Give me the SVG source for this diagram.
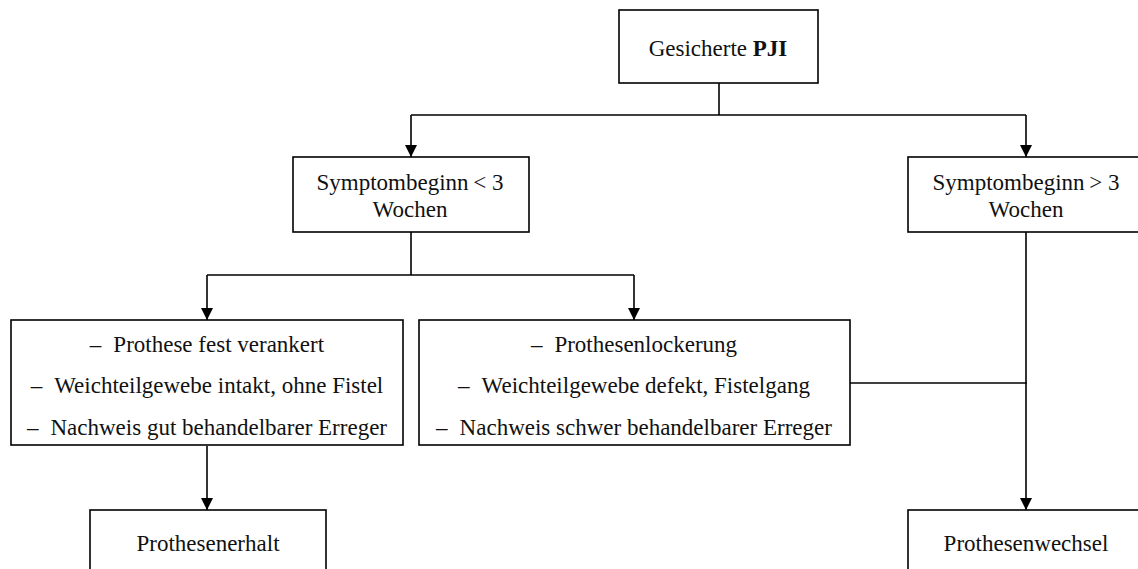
<svg xmlns="http://www.w3.org/2000/svg" width="1138" height="569" viewBox="0 0 1138 569">
<style>
.box{fill:#fff;stroke:#000;stroke-width:1.6}
.t{font-family:"Liberation Serif","Times New Roman",serif;font-size:23px;fill:#111;text-anchor:middle}
.c{fill:none;stroke:#000;stroke-width:1.6}
</style>
<defs>
<marker id="ah" markerUnits="userSpaceOnUse" markerWidth="12" markerHeight="12" viewBox="0 0 10 10" refX="10" refY="5" orient="auto">
<path d="M0,0 L10,5 L0,10 z" fill="#000"/>
</marker>
</defs>
<g id="connectors">
<path class="c" d="M719,83 V115"/>
<path class="c" d="M411,115 H1026"/>
<path class="c" d="M411,115 V157" marker-end="url(#ah)"/>
<path class="c" d="M1026,115 V157" marker-end="url(#ah)"/>
<path class="c" d="M411,232 V275"/>
<path class="c" d="M207,275 H634"/>
<path class="c" d="M207,275 V320" marker-end="url(#ah)"/>
<path class="c" d="M634,275 V320" marker-end="url(#ah)"/>
<path class="c" d="M207,446 V510" marker-end="url(#ah)"/>
<path class="c" d="M1026,232 V510" marker-end="url(#ah)"/>
<path class="c" d="M850,383 H1027"/>
</g>
<g id="n-pji">
<rect class="box" x="619" y="10" width="199" height="73"/>
<text class="t" x="718" y="56">Gesicherte <tspan font-weight="bold">PJI</tspan></text>
</g>
<g id="n-lt3">
<rect class="box" x="293" y="157" width="236" height="75"/>
<text class="t" x="410" y="190">Symptombeginn&#8201;&lt; 3</text>
<text class="t" x="410" y="217">Wochen</text>
</g>
<g id="n-gt3">
<rect class="box" x="908" y="157" width="237" height="75"/>
<text class="t" x="1026" y="190">Symptombeginn&#8201;&gt; 3</text>
<text class="t" x="1026" y="217">Wochen</text>
</g>
<g id="n-fest">
<rect class="box" x="11" y="320" width="392" height="125"/>
<text class="t" x="207" y="352">–<tspan dx="12">Prothese fest verankert</tspan></text>
<text class="t" x="207" y="393">–<tspan dx="12">Weichteilgewebe intakt, ohne Fistel</tspan></text>
<text class="t" x="207" y="435">–<tspan dx="12">Nachweis gut behandelbarer Erreger</tspan></text>
</g>
<g id="n-locker">
<rect class="box" x="419" y="320" width="431" height="125"/>
<text class="t" x="634" y="352">–<tspan dx="12">Prothesenlockerung</tspan></text>
<text class="t" x="634" y="393">–<tspan dx="12">Weichteilgewebe defekt, Fistelgang</tspan></text>
<text class="t" x="634" y="435">–<tspan dx="12">Nachweis schwer behandelbarer Erreger</tspan></text>
</g>
<g id="n-erhalt">
<rect class="box" x="90" y="510" width="236" height="80"/>
<text class="t" x="208" y="551">Prothesenerhalt</text>
</g>
<g id="n-wechsel">
<rect class="box" x="908" y="510" width="237" height="80"/>
<text class="t" x="1026" y="551">Prothesenwechsel</text>
</g>
</svg>
